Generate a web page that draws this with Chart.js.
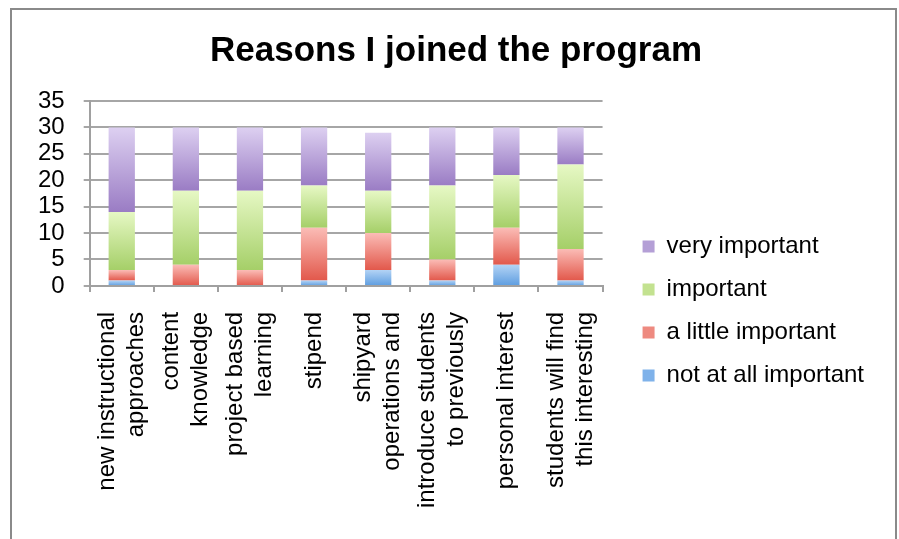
<!DOCTYPE html>
<html>
<head>
<meta charset="utf-8">
<script src="https://cdn.jsdelivr.net/npm/chart.js@4/dist/chart.umd.min.js"></script>
<style>
  body { margin: 0; background: #fff; }
  #frame {
    position: absolute; left: 10px; top: 8px; width: 887px; height: 540px;
    border-left: 2px solid #8a8a8a; border-top: 2px solid #8a8a8a; border-right: 2px solid #8a8a8a;
    box-sizing: border-box; background: #fff;
  }
  #wrap { position: absolute; left: 0; top: 0; width: 883px; height: 529px; }
</style>
</head>
<body>
<div id="frame"><div id="wrap"><canvas id="chart"></canvas></div></div>
<script>
// categories, wrapped the way the picture shows them
const categories = [
  ['new instructional', 'approaches'],
  ['content', 'knowledge'],
  ['project based', 'learning'],
  ['', 'stipend'],
  ['shipyard', 'operations and'],
  ['introduce students', 'to previously'],
  ['', 'personal interest'],
  ['students will find', 'this interesting']
];
const singleLine = [false, false, false, true, false, false, true, false];
const notAtAll   = [1, 0, 0, 1, 3, 1, 4, 1];
const aLittle    = [2, 4, 3, 10, 7, 4, 7, 6];
const important  = [11, 14, 15, 8, 8, 14, 10, 16];
const veryImport = [16, 12, 12, 11, 11, 11, 9, 7];
const yTicks = [0, 5, 10, 15, 20, 25, 30, 35];
const names = ['not at all important', 'a little important', 'important', 'very important'];

// top colour, bottom colour, legend colour
const palette = [
  ['#b3d3f5', '#5d9de0', '#7fb2ea'],
  ['#fbbcb6', '#e2584b', '#ee8a80'],
  ['#e6f8c4', '#a5cf68', '#c3e290'],
  ['#ddd0f1', '#9a7cc4', '#b49fd6']
];
const seriesData = [notAtAll, aLittle, important, veryImport];
const FONT = 'Liberation Sans, Arial, sans-serif';
const LINE = 29;

function barFill(ctx) {
  const cols = palette[ctx.datasetIndex];
  const chart = ctx.chart;
  if (!chart.chartArea || ctx.type !== 'data' || !chart.scales.y) return cols[2];
  let base = 0;
  for (let i = 0; i < ctx.datasetIndex; i++) base += seriesData[i][ctx.dataIndex];
  const top = base + seriesData[ctx.datasetIndex][ctx.dataIndex];
  const y0 = chart.scales.y.getPixelForValue(base);
  const y1 = chart.scales.y.getPixelForValue(top);
  if (!isFinite(y0) || !isFinite(y1) || y0 === y1) return cols[2];
  const g = chart.ctx.createLinearGradient(0, y1, 0, y0);
  g.addColorStop(0, cols[0]);
  g.addColorStop(1, cols[1]);
  return g;
}

// a small empty box between the plot and the legend
const legendGap = {
  id: 'legendGap',
  beforeInit(chart) {
    Chart.layouts.addBox(chart, {
      position: 'right', weight: 500, fullSize: false, options: {},
      isHorizontal: () => false,
      update(maxWidth, maxHeight) { this.width = 21; this.height = maxHeight; },
      draw() {}
    });
  }
};

new Chart(document.getElementById('chart'), {
  type: 'bar',
  data: {
    labels: categories,
    datasets: seriesData.map((d, i) => ({
      label: names[i],
      data: d,
      backgroundColor: barFill,
      borderWidth: 0,
      categoryPercentage: 1,
      barPercentage: 0.41
    }))
  },
  plugins: [legendGap],
  options: {
    responsive: true,
    maintainAspectRatio: false,
    animation: false,
    layout: { padding: { left: 26, right: 21, top: 0, bottom: 11 } },
    scales: {
      x: {
        stacked: true,
        grid: { display: true, drawOnChartArea: false, offset: true, color: '#a0a0a0', lineWidth: 2, tickLength: 6 },
        border: { color: '#a0a0a0', width: 2 },
        ticks: {
          color: '#000', minRotation: 90, maxRotation: 90, padding: 20, autoSkip: false,
          labelOffset: -LINE / 2,
          font: c => ({ family: FONT, size: 24, lineHeight: (singleLine[c.index] ? LINE / 2 : LINE) + 'px' })
        }
      },
      y: {
        stacked: true,
        min: 0, max: 35,
        afterBuildTicks: axis => { axis.ticks = yTicks.map(v => ({ value: v })); },
        afterFit: axis => { axis.width -= axis.options.ticks.padding; },
        grid: { color: '#a6a6a6', lineWidth: 2, tickLength: 6 },
        border: { color: '#a0a0a0', width: 2 },
        ticks: { color: '#000', padding: 19, autoSkip: false, font: { family: FONT, size: 24, lineHeight: 1 } }
      }
    },
    plugins: {
      title: {
        display: true,
        text: 'Reasons I joined the program',
        color: '#000',
        font: { family: FONT, size: 35, weight: 'bold' },
        padding: { top: 20, bottom: 29 }
      },
      legend: {
        position: 'right',
        reverse: true,
        maxWidth: 400,
        title: { display: true, text: '', font: { size: 10 }, padding: { top: 0, bottom: 72 } },
        labels: {
          color: '#000',
          boxWidth: 12, boxHeight: 12, padding: 19,
          font: { family: FONT, size: 24 },
          generateLabels: chart => {
            const items = Chart.defaults.plugins.legend.labels.generateLabels(chart);
            items.forEach(it => { it.fillStyle = palette[it.datasetIndex][2]; it.lineWidth = 0; it.strokeStyle = 'transparent'; });
            return items;
          }
        }
      },
      tooltip: { enabled: false }
    }
  }
});
</script>
</body>
</html>
